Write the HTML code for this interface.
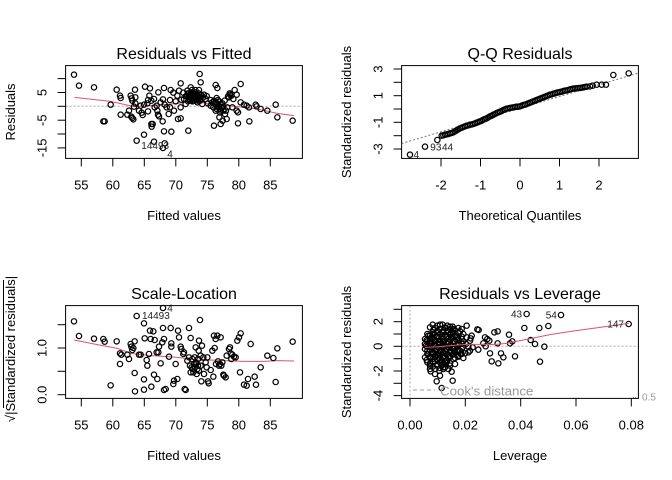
<!DOCTYPE html>
<html><head><meta charset="utf-8"><style>
html,body{margin:0;padding:0;background:#fff;}
svg{display:block;font-family:"Liberation Sans",Arial,sans-serif;}
</style></head><body>
<svg width="672" height="480" viewBox="0 0 672 480" xmlns="http://www.w3.org/2000/svg">
<rect width="672" height="480" fill="#fff"/>

<!-- ============ PANEL 1: Residuals vs Fitted ============ -->
<text x="184" y="59" font-size="16" text-anchor="middle">Residuals vs Fitted</text>
<text x="184" y="220" font-size="13" text-anchor="middle">Fitted values</text>
<text transform="translate(15,112) rotate(-90)" font-size="13" text-anchor="middle">Residuals</text>
<line x1="65.6" y1="106.3" x2="302.4" y2="106.3" stroke="#aaa" stroke-dasharray="2,2"/>
<g stroke="#000" stroke-width="1">
<line x1="81.3" y1="158.4" x2="81.3" y2="166.4"/><line x1="112.8" y1="158.4" x2="112.8" y2="166.4"/><line x1="144.3" y1="158.4" x2="144.3" y2="166.4"/><line x1="175.8" y1="158.4" x2="175.8" y2="166.4"/><line x1="207.3" y1="158.4" x2="207.3" y2="166.4"/><line x1="238.8" y1="158.4" x2="238.8" y2="166.4"/><line x1="270.3" y1="158.4" x2="270.3" y2="166.4"/>
<line x1="57.6" y1="78.6" x2="65.6" y2="78.6"/><line x1="57.6" y1="92.5" x2="65.6" y2="92.5"/><line x1="57.6" y1="106.3" x2="65.6" y2="106.3"/><line x1="57.6" y1="120.2" x2="65.6" y2="120.2"/><line x1="57.6" y1="134" x2="65.6" y2="134"/><line x1="57.6" y1="147.9" x2="65.6" y2="147.9"/>
</g>
<g font-size="13" text-anchor="middle">
<text x="81.3" y="189.3">55</text><text x="112.8" y="189.3">60</text><text x="144.3" y="189.3">65</text><text x="175.8" y="189.3">70</text><text x="207.3" y="189.3">75</text><text x="238.8" y="189.3">80</text><text x="270.3" y="189.3">85</text>
<text transform="translate(46.5,92.5) rotate(-90)">5</text>
<text transform="translate(46.5,120.2) rotate(-90)">-5</text>
<text transform="translate(46.5,147.9) rotate(-90)">-15</text>
</g>
<g transform="translate(64 64) scale(0.33333)">
<polyline fill="none" stroke="#DF536B" stroke-width="3" points="32,100 140,112 210,128 240,126 300,122 340,118 390,113 430,118 470,123 520,128 580,135 640,148 690,155"/>
<g fill="none" stroke="#000" stroke-width="3.6">
<circle cx="30" cy="32" r="8"/><circle cx="45" cy="65" r="8"/><circle cx="90" cy="70" r="8"/><circle cx="158" cy="77" r="8"/><circle cx="168" cy="95" r="8"/><circle cx="170" cy="102" r="8"/><circle cx="140" cy="122" r="8"/><circle cx="118" cy="172" r="8"/><circle cx="122" cy="172" r="8"/><circle cx="170" cy="152" r="8"/><circle cx="190" cy="152" r="8"/><circle cx="195" cy="140" r="8"/><circle cx="200" cy="95" r="8"/><circle cx="203" cy="103" r="8"/><circle cx="205" cy="110" r="8"/><circle cx="213" cy="77" r="8"/><circle cx="214" cy="100" r="8"/><circle cx="214" cy="118" r="8"/><circle cx="210" cy="128" r="8"/><circle cx="202" cy="158" r="8"/><circle cx="205" cy="162" r="8"/><circle cx="208" cy="166" r="8"/><circle cx="218" cy="230" r="8"/><circle cx="240" cy="212" r="8"/><circle cx="243" cy="68" r="8"/><circle cx="258" cy="73" r="8"/><circle cx="256" cy="95" r="8"/><circle cx="252" cy="108" r="8"/><circle cx="240" cy="122" r="8"/><circle cx="233" cy="146" r="8"/><circle cx="236" cy="153" r="8"/><circle cx="250" cy="118" r="8"/><circle cx="252" cy="142" r="8"/><circle cx="262" cy="110" r="8"/><circle cx="270" cy="105" r="8"/><circle cx="272" cy="130" r="8"/><circle cx="283" cy="85" r="8"/><circle cx="278" cy="125" r="8"/><circle cx="282" cy="152" r="8"/><circle cx="285" cy="157" r="8"/><circle cx="262" cy="180" r="8"/><circle cx="266" cy="180" r="8"/><circle cx="263" cy="188" r="8"/><circle cx="270" cy="233" r="8"/><circle cx="300" cy="72" r="8"/><circle cx="297" cy="106" r="8"/><circle cx="302" cy="122" r="8"/><circle cx="296" cy="172" r="8"/><circle cx="300" cy="202" r="8"/><circle cx="302" cy="238" r="8"/><circle cx="297" cy="252" r="8"/><circle cx="320" cy="78" r="8"/><circle cx="318" cy="108" r="8"/><circle cx="318" cy="130" r="8"/><circle cx="314" cy="150" r="8"/><circle cx="328" cy="86" r="8"/><circle cx="330" cy="140" r="8"/><circle cx="322" cy="203" r="8"/><circle cx="350" cy="58" r="8"/><circle cx="345" cy="80" r="8"/><circle cx="352" cy="107" r="8"/><circle cx="350" cy="130" r="8"/><circle cx="350" cy="163" r="8"/><circle cx="342" cy="165" r="8"/><circle cx="373" cy="200" r="8"/><circle cx="358" cy="86" r="8"/><circle cx="366" cy="96" r="8"/><circle cx="370" cy="80" r="8"/><circle cx="380" cy="70" r="8"/><circle cx="384" cy="78" r="8"/><circle cx="375" cy="98" r="8"/><circle cx="388" cy="94" r="8"/><circle cx="385" cy="105" r="8"/><circle cx="395" cy="100" r="8"/><circle cx="390" cy="110" r="8"/><circle cx="392" cy="85" r="8"/><circle cx="398" cy="96" r="8"/><circle cx="400" cy="102" r="8"/><circle cx="404" cy="88" r="8"/><circle cx="405" cy="78" r="8"/><circle cx="407" cy="30" r="8"/><circle cx="410" cy="55" r="8"/><circle cx="408" cy="110" r="8"/><circle cx="412" cy="94" r="8"/><circle cx="418" cy="100" r="8"/><circle cx="415" cy="120" r="8"/><circle cx="425" cy="105" r="8"/><circle cx="428" cy="96" r="8"/><circle cx="432" cy="118" r="8"/><circle cx="440" cy="108" r="8"/><circle cx="445" cy="115" r="8"/><circle cx="450" cy="110" r="8"/><circle cx="453" cy="120" r="8"/><circle cx="455" cy="63" r="8"/><circle cx="460" cy="72" r="8"/><circle cx="462" cy="108" r="8"/><circle cx="463" cy="125" r="8"/><circle cx="468" cy="135" r="8"/><circle cx="466" cy="160" r="8"/><circle cx="460" cy="130" r="8"/><circle cx="450" cy="185" r="8"/><circle cx="470" cy="180" r="8"/><circle cx="476" cy="170" r="8"/><circle cx="488" cy="165" r="8"/><circle cx="486" cy="140" r="8"/><circle cx="498" cy="92" r="8"/><circle cx="502" cy="95" r="8"/><circle cx="495" cy="100" r="8"/><circle cx="508" cy="105" r="8"/><circle cx="505" cy="130" r="8"/><circle cx="512" cy="78" r="8"/><circle cx="518" cy="92" r="8"/><circle cx="518" cy="140" r="8"/><circle cx="522" cy="145" r="8"/><circle cx="522" cy="178" r="8"/><circle cx="530" cy="60" r="8"/><circle cx="530" cy="115" r="8"/><circle cx="540" cy="122" r="8"/><circle cx="548" cy="125" r="8"/><circle cx="555" cy="130" r="8"/><circle cx="556" cy="172" r="8"/><circle cx="575" cy="122" r="8"/><circle cx="578" cy="127" r="8"/><circle cx="590" cy="135" r="8"/><circle cx="610" cy="140" r="8"/><circle cx="635" cy="122" r="8"/><circle cx="640" cy="160" r="8"/><circle cx="686" cy="170" r="8"/><circle cx="385" cy="88" r="8"/><circle cx="395" cy="92" r="8"/><circle cx="402" cy="110" r="8"/><circle cx="410" cy="100" r="8"/><circle cx="420" cy="92" r="8"/><circle cx="380" cy="110" r="8"/><circle cx="372" cy="112" r="8"/><circle cx="360" cy="105" r="8"/><circle cx="365" cy="120" r="8"/><circle cx="440" cy="125" r="8"/><circle cx="448" cy="130" r="8"/><circle cx="455" cy="140" r="8"/><circle cx="458" cy="102" r="8"/><circle cx="470" cy="120" r="8"/><circle cx="478" cy="128" r="8"/><circle cx="482" cy="110" r="8"/><circle cx="490" cy="130" r="8"/><circle cx="483" cy="150" r="8"/><circle cx="492" cy="97" r="8"/><circle cx="497" cy="88" r="8"/><circle cx="340" cy="95" r="8"/><circle cx="335" cy="112" r="8"/><circle cx="308" cy="130" r="8"/><circle cx="290" cy="115" r="8"/><circle cx="280" cy="140" r="8"/><circle cx="225" cy="140" r="8"/><circle cx="230" cy="125" r="8"/>
<circle cx="372" cy="88" r="8"/><circle cx="378" cy="95" r="8"/><circle cx="386" cy="100" r="8"/><circle cx="392" cy="104" r="8"/><circle cx="398" cy="90" r="8"/><circle cx="402" cy="98" r="8"/><circle cx="376" cy="104" r="8"/><circle cx="382" cy="85" r="8"/><circle cx="390" cy="96" r="8"/><circle cx="396" cy="108" r="8"/><circle cx="404" cy="104" r="8"/><circle cx="388" cy="88" r="8"/><circle cx="380" cy="100" r="8"/><circle cx="400" cy="115" r="8"/><circle cx="410" cy="92" r="8"/><circle cx="394" cy="78" r="8"/><circle cx="385" cy="112" r="8"/><circle cx="370" cy="95" r="8"/><circle cx="375" cy="88" r="8"/>
<circle cx="455" cy="115" r="8"/><circle cx="460" cy="120" r="8"/><circle cx="465" cy="128" r="8"/><circle cx="470" cy="140" r="8"/><circle cx="473" cy="132" r="8"/><circle cx="465" cy="112" r="8"/><circle cx="475" cy="118" r="8"/><circle cx="458" cy="135" r="8"/><circle cx="468" cy="145" r="8"/><circle cx="478" cy="140" r="8"/>
</g>
</g>
<g font-size="10" fill="#222"><text x="141.3" y="149">14493</text><text x="167.3" y="157.3">4</text></g>
<rect x="65.6" y="65.6" width="236.8" height="92.8" fill="none" stroke="#000" stroke-width="1"/>

<!-- ============ PANEL 2: Q-Q Residuals ============ -->
<text x="520" y="59" font-size="16" text-anchor="middle">Q-Q Residuals</text>
<text x="520" y="220" font-size="13" text-anchor="middle">Theoretical Quantiles</text>
<text transform="translate(351,112) rotate(-90)" font-size="13" text-anchor="middle">Standardized residuals</text>
<line x1="401.6" y1="143.5" x2="638.4" y2="73" stroke="#777" stroke-dasharray="2,2"/>
<g stroke="#000" stroke-width="1">
<line x1="441" y1="158.4" x2="441" y2="166.4"/><line x1="480.5" y1="158.4" x2="480.5" y2="166.4"/><line x1="520" y1="158.4" x2="520" y2="166.4"/><line x1="559.5" y1="158.4" x2="559.5" y2="166.4"/><line x1="599" y1="158.4" x2="599" y2="166.4"/>
<line x1="393.6" y1="69" x2="401.6" y2="69"/><line x1="393.6" y1="82.3" x2="401.6" y2="82.3"/><line x1="393.6" y1="95.7" x2="401.6" y2="95.7"/><line x1="393.6" y1="109" x2="401.6" y2="109"/><line x1="393.6" y1="122.3" x2="401.6" y2="122.3"/><line x1="393.6" y1="135.7" x2="401.6" y2="135.7"/><line x1="393.6" y1="149" x2="401.6" y2="149"/>
</g>
<g font-size="13" text-anchor="middle">
<text x="441" y="189.3">-2</text><text x="480.5" y="189.3">-1</text><text x="520" y="189.3">0</text><text x="559.5" y="189.3">1</text><text x="599" y="189.3">2</text>
<text transform="translate(382.5,69) rotate(-90)">3</text>
<text transform="translate(382.5,95.7) rotate(-90)">1</text>
<text transform="translate(382.5,122.3) rotate(-90)">-1</text>
<text transform="translate(382.5,149) rotate(-90)">-3</text>
</g>
<g transform="translate(400 64) scale(0.33333)" fill="none" stroke="#000" stroke-width="3.6">
<circle cx="30" cy="272" r="8"/><circle cx="75" cy="248" r="8"/><circle cx="112" cy="228" r="8"/>
<circle cx="125" cy="215" r="8"/><circle cx="130" cy="214" r="8"/><circle cx="135" cy="212" r="8"/><circle cx="140" cy="211" r="8"/><circle cx="145" cy="210" r="8"/><circle cx="150" cy="208" r="8"/><circle cx="155" cy="207" r="8"/><circle cx="160" cy="205" r="8"/><circle cx="165" cy="202" r="8"/><circle cx="170" cy="199" r="8"/><circle cx="175" cy="196" r="8"/><circle cx="180" cy="193" r="8"/><circle cx="185" cy="191" r="8"/><circle cx="190" cy="189" r="8"/><circle cx="195" cy="187" r="8"/><circle cx="200" cy="185" r="8"/><circle cx="205" cy="184" r="8"/><circle cx="210" cy="182" r="8"/><circle cx="215" cy="181" r="8"/><circle cx="220" cy="180" r="8"/><circle cx="225" cy="178" r="8"/><circle cx="230" cy="176" r="8"/><circle cx="235" cy="174" r="8"/><circle cx="240" cy="172" r="8"/><circle cx="245" cy="170" r="8"/><circle cx="250" cy="167" r="8"/><circle cx="255" cy="165" r="8"/><circle cx="260" cy="163" r="8"/><circle cx="265" cy="160" r="8"/><circle cx="270" cy="157" r="8"/><circle cx="275" cy="155" r="8"/><circle cx="280" cy="152" r="8"/><circle cx="285" cy="150" r="8"/><circle cx="290" cy="147" r="8"/><circle cx="295" cy="145" r="8"/><circle cx="300" cy="143" r="8"/><circle cx="305" cy="141" r="8"/><circle cx="310" cy="138" r="8"/><circle cx="315" cy="136" r="8"/><circle cx="320" cy="134" r="8"/><circle cx="325" cy="133" r="8"/><circle cx="330" cy="132" r="8"/><circle cx="335" cy="131" r="8"/><circle cx="340" cy="130" r="8"/><circle cx="345" cy="129" r="8"/><circle cx="350" cy="128" r="8"/><circle cx="355" cy="128" r="8"/><circle cx="360" cy="127" r="8"/><circle cx="365" cy="125" r="8"/><circle cx="370" cy="123" r="8"/><circle cx="375" cy="122" r="8"/><circle cx="380" cy="120" r="8"/><circle cx="385" cy="118" r="8"/><circle cx="390" cy="116" r="8"/><circle cx="395" cy="114" r="8"/><circle cx="400" cy="112" r="8"/><circle cx="405" cy="110" r="8"/><circle cx="410" cy="108" r="8"/><circle cx="415" cy="106" r="8"/><circle cx="420" cy="104" r="8"/><circle cx="425" cy="102" r="8"/><circle cx="430" cy="100" r="8"/><circle cx="435" cy="98" r="8"/><circle cx="440" cy="96" r="8"/><circle cx="445" cy="94" r="8"/><circle cx="450" cy="92" r="8"/><circle cx="455" cy="91" r="8"/><circle cx="460" cy="89" r="8"/><circle cx="465" cy="88" r="8"/><circle cx="470" cy="86" r="8"/><circle cx="475" cy="85" r="8"/><circle cx="480" cy="84" r="8"/><circle cx="485" cy="83" r="8"/><circle cx="490" cy="81" r="8"/><circle cx="495" cy="80" r="8"/><circle cx="500" cy="79" r="8"/><circle cx="505" cy="78" r="8"/><circle cx="510" cy="76" r="8"/><circle cx="515" cy="75" r="8"/><circle cx="520" cy="74" r="8"/><circle cx="525" cy="73" r="8"/><circle cx="530" cy="73" r="8"/><circle cx="535" cy="72" r="8"/><circle cx="540" cy="72" r="8"/><circle cx="545" cy="71" r="8"/><circle cx="550" cy="70" r="8"/><circle cx="555" cy="69" r="8"/><circle cx="560" cy="68" r="8"/>
<circle cx="570" cy="67" r="8"/><circle cx="578" cy="65" r="8"/><circle cx="590" cy="62" r="8"/><circle cx="605" cy="62" r="8"/><circle cx="618" cy="62" r="8"/><circle cx="640" cy="33" r="8"/><circle cx="686" cy="28" r="8"/>
</g>
<g font-size="10" fill="#222"><text x="430.3" y="150.7">93</text><text x="442" y="150.7">44</text><text x="413.5" y="158">4</text></g>
<rect x="401.6" y="65.6" width="236.8" height="92.8" fill="none" stroke="#000" stroke-width="1"/>

<!-- ============ PANEL 3: Scale-Location ============ -->
<text x="184" y="299" font-size="16" text-anchor="middle">Scale-Location</text>
<text x="184" y="460" font-size="13" text-anchor="middle">Fitted values</text>
<text transform="translate(15,349) rotate(-90)" font-size="13" text-anchor="middle">√|Standardized residuals|</text>
<line x1="3.5" y1="280" x2="3.5" y2="408" stroke="#000" stroke-width="1"/>
<g stroke="#000" stroke-width="1">
<line x1="81.3" y1="398.4" x2="81.3" y2="406.4"/><line x1="112.8" y1="398.4" x2="112.8" y2="406.4"/><line x1="144.3" y1="398.4" x2="144.3" y2="406.4"/><line x1="175.8" y1="398.4" x2="175.8" y2="406.4"/><line x1="207.3" y1="398.4" x2="207.3" y2="406.4"/><line x1="238.8" y1="398.4" x2="238.8" y2="406.4"/><line x1="270.3" y1="398.4" x2="270.3" y2="406.4"/>
<line x1="57.6" y1="394.7" x2="65.6" y2="394.7"/><line x1="57.6" y1="371.3" x2="65.6" y2="371.3"/><line x1="57.6" y1="348" x2="65.6" y2="348"/><line x1="57.6" y1="324.7" x2="65.6" y2="324.7"/>
</g>
<g font-size="13" text-anchor="middle">
<text x="81.3" y="429.3">55</text><text x="112.8" y="429.3">60</text><text x="144.3" y="429.3">65</text><text x="175.8" y="429.3">70</text><text x="207.3" y="429.3">75</text><text x="238.8" y="429.3">80</text><text x="270.3" y="429.3">85</text>
<text transform="translate(46.5,394.7) rotate(-90)">0.0</text>
<text transform="translate(46.5,348) rotate(-90)">1.0</text>
</g>
<g transform="translate(64 304) scale(0.33333)">
<polyline fill="none" stroke="#DF536B" stroke-width="3" points="30,108 100,122 160,133 200,148 260,155 300,157 340,160 380,165 400,168 420,170 440,168 480,170 540,172 600,172 640,170 690,171"/>
<g fill="none" stroke="#000" stroke-width="3.6">
<circle cx="30" cy="52" r="8"/><circle cx="45" cy="96" r="8"/><circle cx="90" cy="104" r="8"/><circle cx="118" cy="105" r="8"/><circle cx="122" cy="113" r="8"/><circle cx="140" cy="244" r="8"/><circle cx="158" cy="112" r="8"/><circle cx="168" cy="148" r="8"/><circle cx="168" cy="180" r="8"/><circle cx="172" cy="152" r="8"/><circle cx="190" cy="152" r="8"/><circle cx="195" cy="165" r="8"/><circle cx="200" cy="120" r="8"/><circle cx="202" cy="128" r="8"/><circle cx="205" cy="138" r="8"/><circle cx="208" cy="132" r="8"/><circle cx="212" cy="112" r="8"/><circle cx="212" cy="207" r="8"/><circle cx="213" cy="262" r="8"/><circle cx="218" cy="36" r="8"/><circle cx="225" cy="152" r="8"/><circle cx="230" cy="152" r="8"/><circle cx="240" cy="58" r="8"/><circle cx="240" cy="226" r="8"/><circle cx="240" cy="257" r="8"/><circle cx="242" cy="103" r="8"/><circle cx="248" cy="168" r="8"/><circle cx="250" cy="185" r="8"/><circle cx="255" cy="150" r="8"/><circle cx="258" cy="80" r="8"/><circle cx="260" cy="105" r="8"/><circle cx="262" cy="248" r="8"/><circle cx="268" cy="82" r="8"/><circle cx="270" cy="212" r="8"/><circle cx="272" cy="108" r="8"/><circle cx="278" cy="145" r="8"/><circle cx="280" cy="225" r="8"/><circle cx="283" cy="145" r="8"/><circle cx="285" cy="128" r="8"/><circle cx="290" cy="178" r="8"/><circle cx="297" cy="72" r="8"/><circle cx="297" cy="12" r="8"/><circle cx="295" cy="115" r="8"/><circle cx="300" cy="105" r="8"/><circle cx="300" cy="258" r="8"/><circle cx="305" cy="255" r="8"/><circle cx="315" cy="158" r="8"/><circle cx="320" cy="72" r="8"/><circle cx="322" cy="118" r="8"/><circle cx="322" cy="128" r="8"/><circle cx="328" cy="240" r="8"/><circle cx="330" cy="230" r="8"/><circle cx="340" cy="225" r="8"/><circle cx="335" cy="180" r="8"/><circle cx="342" cy="80" r="8"/><circle cx="345" cy="100" r="8"/><circle cx="350" cy="128" r="8"/><circle cx="352" cy="135" r="8"/><circle cx="358" cy="150" r="8"/><circle cx="360" cy="145" r="8"/><circle cx="362" cy="255" r="8"/><circle cx="365" cy="258" r="8"/><circle cx="375" cy="72" r="8"/><circle cx="380" cy="102" r="8"/><circle cx="383" cy="190" r="8"/><circle cx="385" cy="165" r="8"/><circle cx="390" cy="180" r="8"/><circle cx="388" cy="205" r="8"/><circle cx="393" cy="190" r="8"/><circle cx="395" cy="130" r="8"/><circle cx="398" cy="178" r="8"/><circle cx="400" cy="195" r="8"/><circle cx="402" cy="165" r="8"/><circle cx="404" cy="140" r="8"/><circle cx="405" cy="110" r="8"/><circle cx="408" cy="48" r="8"/><circle cx="410" cy="155" r="8"/><circle cx="410" cy="185" r="8"/><circle cx="412" cy="232" r="8"/><circle cx="414" cy="125" r="8"/><circle cx="418" cy="160" r="8"/><circle cx="420" cy="210" r="8"/><circle cx="425" cy="175" r="8"/><circle cx="428" cy="190" r="8"/><circle cx="430" cy="160" r="8"/><circle cx="432" cy="232" r="8"/><circle cx="434" cy="238" r="8"/><circle cx="440" cy="198" r="8"/><circle cx="445" cy="140" r="8"/><circle cx="448" cy="218" r="8"/><circle cx="450" cy="95" r="8"/><circle cx="452" cy="132" r="8"/><circle cx="455" cy="105" r="8"/><circle cx="456" cy="180" r="8"/><circle cx="460" cy="95" r="8"/><circle cx="462" cy="172" r="8"/><circle cx="465" cy="185" r="8"/><circle cx="468" cy="180" r="8"/><circle cx="470" cy="100" r="8"/><circle cx="472" cy="185" r="8"/><circle cx="475" cy="175" r="8"/><circle cx="478" cy="212" r="8"/><circle cx="480" cy="215" r="8"/><circle cx="485" cy="220" r="8"/><circle cx="488" cy="155" r="8"/><circle cx="495" cy="135" r="8"/><circle cx="498" cy="130" r="8"/><circle cx="500" cy="148" r="8"/><circle cx="502" cy="165" r="8"/><circle cx="505" cy="152" r="8"/><circle cx="510" cy="158" r="8"/><circle cx="515" cy="160" r="8"/><circle cx="520" cy="110" r="8"/><circle cx="525" cy="100" r="8"/><circle cx="528" cy="205" r="8"/><circle cx="530" cy="88" r="8"/><circle cx="540" cy="242" r="8"/><circle cx="548" cy="245" r="8"/><circle cx="552" cy="225" r="8"/><circle cx="560" cy="120" r="8"/><circle cx="572" cy="218" r="8"/><circle cx="576" cy="242" r="8"/><circle cx="590" cy="190" r="8"/><circle cx="610" cy="155" r="8"/><circle cx="628" cy="162" r="8"/><circle cx="635" cy="234" r="8"/><circle cx="640" cy="133" r="8"/><circle cx="686" cy="113" r="8"/>
<circle cx="370" cy="170" r="8"/><circle cx="378" cy="185" r="8"/><circle cx="386" cy="195" r="8"/><circle cx="395" cy="175" r="8"/><circle cx="402" cy="185" r="8"/><circle cx="392" cy="160" r="8"/><circle cx="375" cy="160" r="8"/><circle cx="405" cy="200" r="8"/><circle cx="380" cy="205" r="8"/><circle cx="398" cy="210" r="8"/>
</g>
</g>
<g font-size="10" fill="#222"><text x="142" y="319">14493</text><text x="167.3" y="311.3">4</text></g>
<rect x="65.6" y="305.6" width="236.8" height="92.8" fill="none" stroke="#000" stroke-width="1"/>

<!-- ============ PANEL 4: Residuals vs Leverage ============ -->
<text x="520" y="299" font-size="16" text-anchor="middle">Residuals vs Leverage</text>
<text x="520" y="460" font-size="13" text-anchor="middle">Leverage</text>
<text transform="translate(351,352) rotate(-90)" font-size="13" text-anchor="middle">Standardized residuals</text>
<line x1="401.6" y1="346.3" x2="638.4" y2="346.3" stroke="#aaa" stroke-dasharray="2,2"/>
<line x1="410" y1="305.6" x2="410" y2="398.4" stroke="#aaa" stroke-dasharray="2,2"/>
<g stroke="#000" stroke-width="1">
<line x1="410" y1="398.4" x2="410" y2="406.4"/><line x1="465.3" y1="398.4" x2="465.3" y2="406.4"/><line x1="520.7" y1="398.4" x2="520.7" y2="406.4"/><line x1="576" y1="398.4" x2="576" y2="406.4"/><line x1="631.3" y1="398.4" x2="631.3" y2="406.4"/>
<line x1="393.6" y1="309.3" x2="401.6" y2="309.3"/><line x1="393.6" y1="321.7" x2="401.6" y2="321.7"/><line x1="393.6" y1="334" x2="401.6" y2="334"/><line x1="393.6" y1="346.3" x2="401.6" y2="346.3"/><line x1="393.6" y1="358.7" x2="401.6" y2="358.7"/><line x1="393.6" y1="371" x2="401.6" y2="371"/><line x1="393.6" y1="383.3" x2="401.6" y2="383.3"/><line x1="393.6" y1="395.6" x2="401.6" y2="395.6"/>
</g>
<g font-size="13" text-anchor="middle">
<text x="410" y="429.3">0.00</text><text x="465.3" y="429.3">0.02</text><text x="520.7" y="429.3">0.04</text><text x="576" y="429.3">0.06</text><text x="631.3" y="429.3">0.08</text>
<text transform="translate(382.5,321.7) rotate(-90)">2</text>
<text transform="translate(382.5,346.3) rotate(-90)">0</text>
<text transform="translate(382.5,371) rotate(-90)">-2</text>
<text transform="translate(382.5,395.6) rotate(-90)">-4</text>
</g>
<g transform="translate(400 304) scale(0.33333)">
<g fill="none" stroke="#000" stroke-width="3.6">
<circle cx="120" cy="62" r="8"/><circle cx="135" cy="70" r="8"/><circle cx="150" cy="68" r="8"/><circle cx="160" cy="75" r="8"/><circle cx="175" cy="72" r="8"/><circle cx="200" cy="65" r="8"/><circle cx="100" cy="78" r="8"/><circle cx="115" cy="85" r="8"/><circle cx="130" cy="80" r="8"/><circle cx="145" cy="85" r="8"/><circle cx="160" cy="88" r="8"/><circle cx="180" cy="82" r="8"/><circle cx="190" cy="90" r="8"/><circle cx="85" cy="95" r="8"/><circle cx="95" cy="100" r="8"/><circle cx="110" cy="98" r="8"/><circle cx="125" cy="95" r="8"/><circle cx="140" cy="100" r="8"/><circle cx="155" cy="102" r="8"/><circle cx="170" cy="98" r="8"/><circle cx="185" cy="105" r="8"/><circle cx="200" cy="100" r="8"/><circle cx="80" cy="108" r="8"/><circle cx="92" cy="112" r="8"/><circle cx="105" cy="110" r="8"/><circle cx="118" cy="115" r="8"/><circle cx="132" cy="110" r="8"/><circle cx="145" cy="115" r="8"/><circle cx="160" cy="112" r="8"/><circle cx="175" cy="118" r="8"/><circle cx="190" cy="112" r="8"/><circle cx="210" cy="110" r="8"/><circle cx="78" cy="125" r="8"/><circle cx="90" cy="128" r="8"/><circle cx="102" cy="122" r="8"/><circle cx="115" cy="130" r="8"/><circle cx="128" cy="125" r="8"/><circle cx="142" cy="128" r="8"/><circle cx="158" cy="130" r="8"/><circle cx="172" cy="125" r="8"/><circle cx="188" cy="130" r="8"/><circle cx="205" cy="128" r="8"/><circle cx="82" cy="140" r="8"/><circle cx="95" cy="145" r="8"/><circle cx="108" cy="138" r="8"/><circle cx="122" cy="145" r="8"/><circle cx="135" cy="140" r="8"/><circle cx="150" cy="145" r="8"/><circle cx="165" cy="142" r="8"/><circle cx="180" cy="140" r="8"/><circle cx="195" cy="148" r="8"/><circle cx="210" cy="140" r="8"/><circle cx="80" cy="168" r="8"/><circle cx="92" cy="160" r="8"/><circle cx="105" cy="155" r="8"/><circle cx="118" cy="162" r="8"/><circle cx="130" cy="158" r="8"/><circle cx="145" cy="160" r="8"/><circle cx="160" cy="165" r="8"/><circle cx="175" cy="158" r="8"/><circle cx="190" cy="162" r="8"/><circle cx="90" cy="185" r="8"/><circle cx="100" cy="175" r="8"/><circle cx="112" cy="180" r="8"/><circle cx="125" cy="185" r="8"/><circle cx="138" cy="178" r="8"/><circle cx="150" cy="185" r="8"/><circle cx="165" cy="180" r="8"/><circle cx="92" cy="202" r="8"/><circle cx="118" cy="200" r="8"/><circle cx="130" cy="195" r="8"/><circle cx="145" cy="195" r="8"/><circle cx="155" cy="203" r="8"/><circle cx="110" cy="232" r="8"/><circle cx="158" cy="230" r="8"/><circle cx="125" cy="252" r="8"/><circle cx="130" cy="190" r="8"/><circle cx="100" cy="150" r="8"/><circle cx="115" cy="148" r="8"/><circle cx="140" cy="135" r="8"/><circle cx="160" cy="150" r="8"/><circle cx="175" cy="140" r="8"/><circle cx="125" cy="168" r="8"/><circle cx="140" cy="172" r="8"/><circle cx="85" cy="150" r="8"/><circle cx="88" cy="118" r="8"/><circle cx="100" cy="90" r="8"/><circle cx="128" cy="105" r="8"/><circle cx="150" cy="92" r="8"/><circle cx="170" cy="108" r="8"/><circle cx="182" cy="150" r="8"/><circle cx="198" cy="120" r="8"/><circle cx="205" cy="145" r="8"/><circle cx="215" cy="95" r="8"/><circle cx="212" cy="103" r="8"/><circle cx="218" cy="130" r="8"/><circle cx="232" cy="76" r="8"/><circle cx="236" cy="78" r="8"/><circle cx="235" cy="137" r="8"/><circle cx="250" cy="118" r="8"/><circle cx="255" cy="100" r="8"/><circle cx="262" cy="105" r="8"/><circle cx="268" cy="110" r="8"/><circle cx="257" cy="127" r="8"/><circle cx="270" cy="148" r="8"/><circle cx="283" cy="85" r="8"/><circle cx="293" cy="82" r="8"/><circle cx="293" cy="118" r="8"/><circle cx="275" cy="172" r="8"/><circle cx="295" cy="178" r="8"/><circle cx="303" cy="148" r="8"/><circle cx="310" cy="160" r="8"/><circle cx="327" cy="92" r="8"/><circle cx="330" cy="118" r="8"/><circle cx="337" cy="112" r="8"/><circle cx="345" cy="157" r="8"/><circle cx="373" cy="72" r="8"/><circle cx="392" cy="108" r="8"/><circle cx="405" cy="120" r="8"/><circle cx="418" cy="72" r="8"/><circle cx="420" cy="173" r="8"/><circle cx="433" cy="128" r="8"/><circle cx="445" cy="66" r="8"/><circle cx="380" cy="30" r="8"/><circle cx="483" cy="33" r="8"/><circle cx="686" cy="60" r="8"/>
<circle cx="75" cy="105" r="8"/><circle cx="75" cy="120" r="8"/><circle cx="75" cy="135" r="8"/><circle cx="75" cy="160" r="8"/>
<circle cx="82" cy="90" r="8"/><circle cx="82" cy="112" r="8"/><circle cx="82" cy="128" r="8"/><circle cx="82" cy="150" r="8"/><circle cx="82" cy="175" r="8"/>
<circle cx="90" cy="70" r="8"/><circle cx="90" cy="95" r="8"/><circle cx="90" cy="105" r="8"/><circle cx="90" cy="118" r="8"/><circle cx="90" cy="138" r="8"/><circle cx="90" cy="158" r="8"/><circle cx="90" cy="178" r="8"/><circle cx="90" cy="195" r="8"/>
<circle cx="98" cy="62" r="8"/><circle cx="98" cy="85" r="8"/><circle cx="98" cy="102" r="8"/><circle cx="98" cy="115" r="8"/><circle cx="98" cy="132" r="8"/><circle cx="98" cy="148" r="8"/><circle cx="98" cy="165" r="8"/><circle cx="98" cy="188" r="8"/>
<circle cx="105" cy="72" r="8"/><circle cx="105" cy="92" r="8"/><circle cx="105" cy="108" r="8"/><circle cx="105" cy="125" r="8"/><circle cx="105" cy="142" r="8"/><circle cx="105" cy="160" r="8"/><circle cx="105" cy="172" r="8"/><circle cx="105" cy="195" r="8"/><circle cx="105" cy="210" r="8"/>
<circle cx="112" cy="65" r="8"/><circle cx="112" cy="80" r="8"/><circle cx="112" cy="100" r="8"/><circle cx="112" cy="118" r="8"/><circle cx="112" cy="135" r="8"/><circle cx="112" cy="152" r="8"/><circle cx="112" cy="168" r="8"/><circle cx="112" cy="185" r="8"/>
<circle cx="120" cy="75" r="8"/><circle cx="120" cy="90" r="8"/><circle cx="120" cy="108" r="8"/><circle cx="120" cy="122" r="8"/><circle cx="120" cy="140" r="8"/><circle cx="120" cy="155" r="8"/><circle cx="120" cy="175" r="8"/><circle cx="120" cy="192" r="8"/><circle cx="120" cy="215" r="8"/>
<circle cx="128" cy="62" r="8"/><circle cx="128" cy="85" r="8"/><circle cx="128" cy="100" r="8"/><circle cx="128" cy="115" r="8"/><circle cx="128" cy="132" r="8"/><circle cx="128" cy="148" r="8"/><circle cx="128" cy="162" r="8"/><circle cx="128" cy="180" r="8"/>
<circle cx="135" cy="72" r="8"/><circle cx="135" cy="92" r="8"/><circle cx="135" cy="108" r="8"/><circle cx="135" cy="125" r="8"/><circle cx="135" cy="142" r="8"/><circle cx="135" cy="158" r="8"/><circle cx="135" cy="172" r="8"/><circle cx="135" cy="190" r="8"/>
<circle cx="142" cy="65" r="8"/><circle cx="142" cy="80" r="8"/><circle cx="142" cy="98" r="8"/><circle cx="142" cy="118" r="8"/><circle cx="142" cy="135" r="8"/><circle cx="142" cy="150" r="8"/><circle cx="142" cy="168" r="8"/>
<circle cx="150" cy="75" r="8"/><circle cx="150" cy="90" r="8"/><circle cx="150" cy="108" r="8"/><circle cx="150" cy="125" r="8"/><circle cx="150" cy="140" r="8"/><circle cx="150" cy="158" r="8"/><circle cx="150" cy="178" r="8"/>
<circle cx="158" cy="68" r="8"/><circle cx="158" cy="85" r="8"/><circle cx="158" cy="100" r="8"/><circle cx="158" cy="118" r="8"/><circle cx="158" cy="135" r="8"/><circle cx="158" cy="152" r="8"/>
<circle cx="165" cy="78" r="8"/><circle cx="165" cy="95" r="8"/><circle cx="165" cy="112" r="8"/><circle cx="165" cy="128" r="8"/><circle cx="165" cy="145" r="8"/><circle cx="165" cy="162" r="8"/>
<circle cx="175" cy="88" r="8"/><circle cx="175" cy="105" r="8"/><circle cx="175" cy="122" r="8"/><circle cx="175" cy="138" r="8"/><circle cx="175" cy="155" r="8"/>
<circle cx="185" cy="75" r="8"/><circle cx="185" cy="98" r="8"/><circle cx="185" cy="118" r="8"/><circle cx="185" cy="135" r="8"/><circle cx="185" cy="150" r="8"/>
</g>
<polyline fill="none" stroke="#DF536B" stroke-width="3" points="75,130 120,128 160,124 200,121 240,121 280,122 320,118 360,110 400,102 450,92 500,84 550,77 600,70 650,63 686,58"/>
</g>
<g font-size="10" fill="#222"><text x="511" y="317.3">43</text><text x="545.7" y="318.7">54</text><text x="607.3" y="327.3">147</text></g>
<line x1="413" y1="390" x2="435" y2="390" stroke="#999" stroke-dasharray="4,3"/>
<text x="440" y="395.5" font-size="13.3" fill="#999">Cook's distance</text>
<text x="642" y="400.5" font-size="10" fill="#999">0.5</text>
<line x1="633" y1="397.5" x2="637" y2="397.5" stroke="#999" stroke-dasharray="1,1"/>
<rect x="401.6" y="305.6" width="236.8" height="92.8" fill="none" stroke="#000" stroke-width="1"/>
</svg>
</body></html>
